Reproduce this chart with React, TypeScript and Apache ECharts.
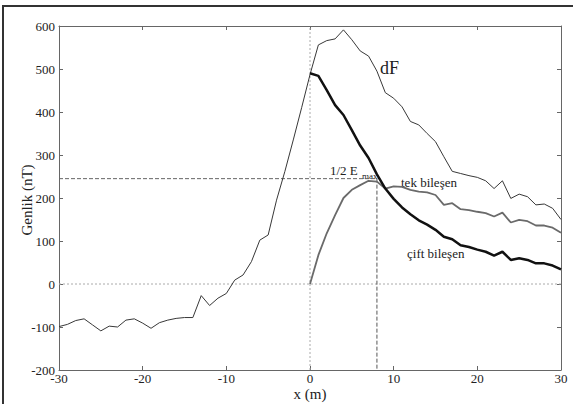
import React, { useEffect, useRef } from "react";
import * as echarts from "echarts";

// x positions (m)
const xAll: number[] = Array.from({ length: 61 }, (_, i) => i - 30);
const xRight: number[] = Array.from({ length: 31 }, (_, i) => i);

// dF anomaly (nT), x = -30..30
const dF: number[] = [
  -99, -94, -85, -81, -95, -109, -98, -100, -84, -81,
  -91, -103, -90, -84, -80, -78, -78, -27, -50, -33,
  -22, 9, 21, 52, 102, 114, 195, 262, 335, 410,
  487, 556, 566, 570, 591, 568, 542, 530, 495, 445,
  432, 412, 378, 370, 350, 331, 296, 262, 257, 252,
  248, 240, 222, 240, 199, 209, 203, 184, 186, 176, 150,
];

// çift bileşen (even component), x = 0..30
const cift: number[] = [
  490, 484, 451, 416, 393, 358, 322, 293, 255, 222,
  198, 178, 162, 148, 138, 126, 110, 104, 90, 86,
  80, 75, 66, 75, 56, 60, 56, 48, 48, 43, 34,
];

// tek bileşen (odd component), x = 0..30
const tek: number[] = [
  0, 67, 118, 160, 200, 219, 230, 240, 238, 222,
  227, 226, 219, 215, 213, 207, 184, 188, 174, 172,
  168, 165, 157, 166, 143, 149, 146, 136, 136, 131, 119,
];

const halfEmax = 245;
const xHalf = 8;
const xMin = -30;
const xMax = 30;
const yMin = -200;
const yMax = 600;

const SERIF = "Liberation Serif";

export default function App() {
  const ref = useRef<HTMLDivElement>(null);

  useEffect(() => {
    if (!ref.current) return;
    const chart = echarts.init(ref.current, null, { renderer: "svg" });

    const axisLine = { show: true, onZero: false, lineStyle: { color: "#666", width: 1 } };
    const axisTick = { show: true, inside: true, length: 4, lineStyle: { color: "#666" } };
    const axisLabel = { color: "#222", fontFamily: SERIF, fontSize: 13 };
    const txt = (size: number) => ({ fontFamily: SERIF, fontSize: size, fill: "#222" });

    chart.setOption({
      animation: false,
      backgroundColor: "#fff",
      grid: { left: 59, right: 12, top: 26, bottom: 34, containLabel: false },
      xAxis: [
        {
          type: "value", min: xMin, max: xMax, interval: 10, position: "bottom",
          axisLine, axisTick, splitLine: { show: false },
          axisLabel: { ...axisLabel, margin: 2 },
        },
        {
          type: "value", min: xMin, max: xMax, interval: 10, position: "top",
          axisLine, axisTick, splitLine: { show: false }, axisLabel: { show: false },
        },
      ],
      yAxis: [
        {
          type: "value", min: yMin, max: yMax, interval: 100, position: "left",
          axisLine, axisTick, splitLine: { show: false },
          axisLabel: { ...axisLabel, margin: 4 },
        },
        {
          type: "value", min: yMin, max: yMax, interval: 100, position: "right",
          axisLine, axisTick, splitLine: { show: false }, axisLabel: { show: false },
        },
      ],
      series: [
        {
          type: "line", silent: true, showSymbol: false,
          data: [[0, yMin], [0, yMax]],
          lineStyle: { color: "#aaa", width: 1, type: [2, 2] },
        },
        {
          type: "line", silent: true, showSymbol: false,
          data: [[xMin, 0], [xMax, 0]],
          lineStyle: { color: "#aaa", width: 1, type: [2, 2] },
        },
        {
          type: "line", silent: true, showSymbol: false,
          data: [[xMin, halfEmax], [xHalf, halfEmax]],
          lineStyle: { color: "#666", width: 1, type: [4, 2] },
        },
        {
          type: "line", silent: true, showSymbol: false,
          data: [[xHalf, halfEmax], [xHalf, yMin]],
          lineStyle: { color: "#555", width: 1, type: [4, 2] },
        },
        {
          name: "dF", type: "line", showSymbol: false,
          data: xAll.map((x, i) => [x, dF[i]]),
          lineStyle: { color: "#383838", width: 1 },
        },
        {
          name: "tek bileşen", type: "line", showSymbol: false,
          data: xRight.map((x, i) => [x, tek[i]]),
          lineStyle: { color: "#6a6a6a", width: 1.8 },
        },
        {
          name: "çift bileşen", type: "line", showSymbol: false,
          data: xRight.map((x, i) => [x, cift[i]]),
          lineStyle: { color: "#111", width: 2.5 },
        },
      ],
      graphic: [
        {
          type: "rect", silent: true,
          shape: { x: 3, y: 6, width: 620, height: 500 },
          style: { fill: "none", stroke: "#333", lineWidth: 2 },
        },
        {
          type: "text", x: 27, y: 200, rotation: Math.PI / 2,
          style: { text: "Genlik (nT)", ...txt(15), align: "center", verticalAlign: "middle" },
        },
        {
          type: "text", x: 310, y: 394,
          style: { text: "x (m)", ...txt(15), align: "center", verticalAlign: "middle" },
        },
        {
          type: "text", x: 380, y: 68,
          style: { text: "dF", ...txt(18), align: "left", verticalAlign: "middle" },
        },
        {
          type: "text", x: 330, y: 170,
          style: { text: "1/2 E", ...txt(13), align: "left", verticalAlign: "middle" },
        },
        {
          type: "text", x: 362, y: 176,
          style: { text: "max", ...txt(9), align: "left", verticalAlign: "middle" },
        },
        {
          type: "text", x: 401, y: 182,
          style: { text: "tek bileşen", ...txt(13), align: "left", verticalAlign: "middle" },
        },
        {
          type: "text", x: 407, y: 253,
          style: { text: "çift bileşen", ...txt(13), align: "left", verticalAlign: "middle" },
        },
      ],
    });

    return () => chart.dispose();
  }, []);

  return (
    <div
      ref={ref}
      style={{ position: "fixed", left: 0, top: 0, width: 573, height: 404 }}
    />
  );
}
